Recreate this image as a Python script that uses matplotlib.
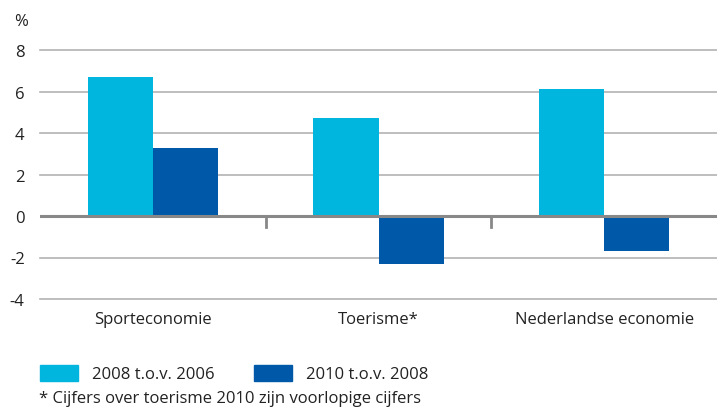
import numpy as np
import matplotlib
matplotlib.use("Agg")
import matplotlib.pyplot as plt
from matplotlib.patches import Rectangle

categories = ["Sporteconomie", "Toerisme*", "Nederlandse economie"]
series_names = ["2008 t.o.v. 2006", "2010 t.o.v. 2008"]
val_2008 = [6.7, 4.7, 6.1]
val_2010 = [3.3, -2.3, -1.7]
yticks = [-4, -2, 0, 2, 4, 6, 8]
footnote = "* Cijfers over toerisme 2010 zijn voorlopige cijfers"

light = "#00B6DE"
dark = "#0059A8"
txt = "#222222"
fs = 12

plt.rcParams["font.family"] = ["Open Sans", "DejaVu Sans"]

W, H = 717, 410
fig = plt.figure(figsize=(W / 100, H / 100), dpi=100)
ax = fig.add_axes([40 / W, 1 - 300 / H, 677 / W, 249 / H])

x = np.arange(len(categories))
w = 0.289
ax.bar(x - w / 2, val_2008, width=w, color=light, zorder=3)
ax.bar(x + w / 2, val_2010, width=w, color=dark, zorder=3)

ax.set_xlim(-0.5, 2.5)
ax.set_ylim(-4, 8)
for y in yticks:
    if y == 0:
        ax.axhline(y, color="#888888", lw=2.2, zorder=4)
    else:
        ax.axhline(y, color="#b3b3b3", lw=1.2, zorder=1, clip_on=False)

for s in ax.spines.values():
    s.set_visible(False)

ax.set_yticks(yticks)
ax.set_yticklabels([str(v) for v in yticks], fontsize=fs, color=txt)
ax.tick_params(axis="y", length=0, pad=11)
ax.set_xticks(x)
ax.set_xticklabels(categories, fontsize=fs, color=txt)
ax.tick_params(axis="x", length=0, pad=9)
# small separators between the groups, hanging from the zero line
for xm in [0.5, 1.5]:
    ax.plot([xm, xm], [0, -0.55], color="#888888", lw=2, zorder=4)

fig.text(14 / W, 1 - 22 / H, "%", fontsize=fs, color=txt,
         va="center", ha="left")

# legend drawn by hand to match the reference spacing
for (px, tx), name, col in zip([(40, 92), (254, 306)], series_names,
                               [light, dark]):
    fig.patches.append(Rectangle((px / W, 1 - 382 / H), 38 / W, 16 / H,
                                 color=col, transform=fig.transFigure))
    fig.text(tx / W, 1 - 375 / H, name, fontsize=fs, color=txt,
             va="center", ha="left")

fig.text(39 / W, 1 - 399 / H, footnote, fontsize=fs, color=txt,
         va="center", ha="left")

fig.savefig("out.png", dpi=100)
